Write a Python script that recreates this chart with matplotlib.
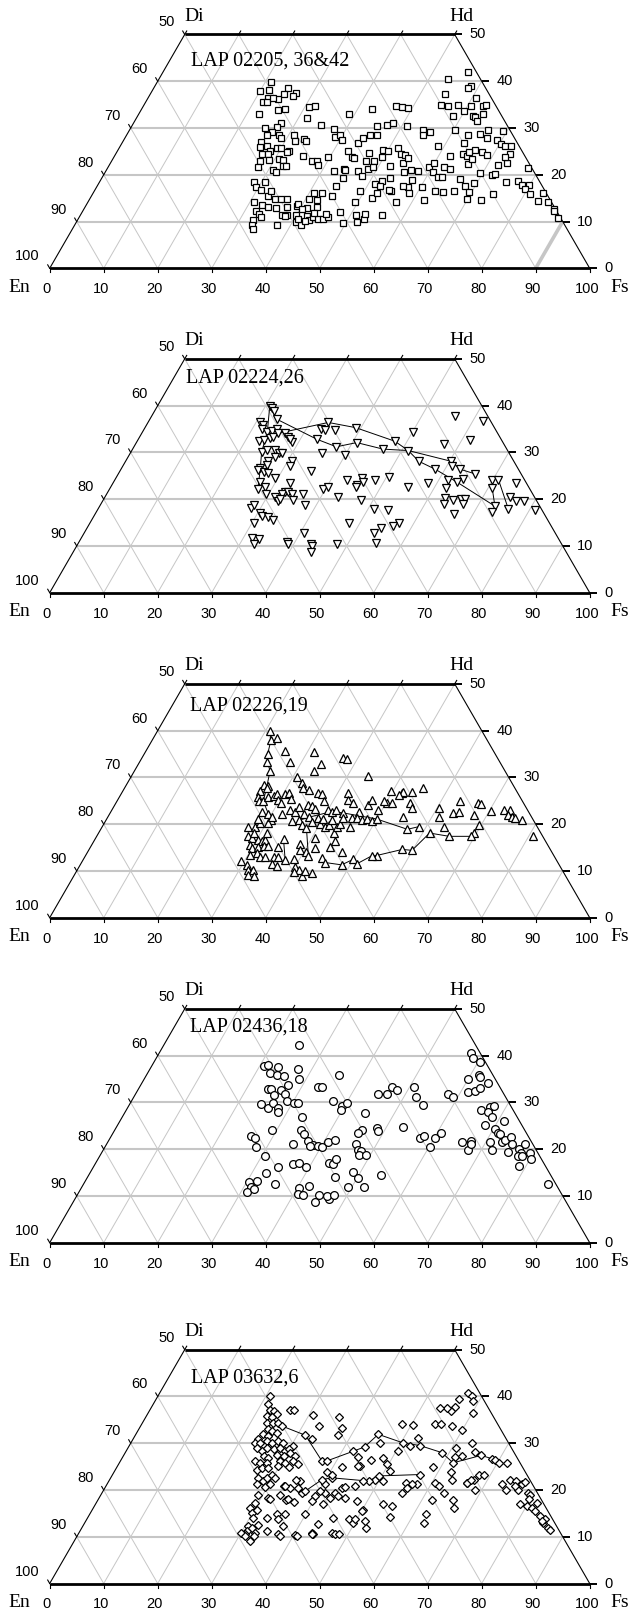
import numpy as np
import matplotlib
matplotlib.use("Agg")
import matplotlib.pyplot as plt

# Pyroxene compositions (mol% Wo and Fs; En = 100 - Wo - Fs) for five LAP basalts

# LAP 02205, 36&42
WO_02205 = [39.9, 38.0, 38.1, 38.6, 37.3, 37.4, 36.9, 36.4, 36.2, 35.5, 35.6, 36.4, 33.1, 33.9, 34.1,
            34.4, 34.6, 32.1, 30.7, 32.9, 34.1, 34.8, 34.4, 34.3, 41.9, 40.4, 38.9, 38.5, 37.3, 36.4,
            35.0, 34.8, 34.9, 33.7, 34.8, 34.6, 34.9, 32.6, 32.6, 32.3, 31.4, 33.0, 29.4, 29.6, 28.7,
            28.5, 27.8, 27.5, 26.6, 26.8, 25.4, 24.8, 24.2, 26.1, 26.2, 24.4, 22.6, 23.7, 29.6, 26.1,
            31.1, 30.3, 30.0, 29.1, 28.6, 27.1, 28.4, 27.9, 28.4, 27.3, 27.6, 27.3,
            29.8, 28.1, 28.4, 27.4, 25.0, 23.9, 23.6, 26.7, 27.8, 28.5, 28.4, 30.5, 30.6, 31.0, 30.4,
            29.6, 28.4, 29.2,
            25.9, 26.2, 25.1, 25.7, 25.7, 24.4, 24.4, 25.1, 24.8, 23.0, 23.1, 23.4, 23.1, 21.6, 21.0,
            20.5, 21.9, 21.9,
            24.1, 23.0, 22.9, 22.1, 23.7, 20.7, 21.2, 19.4, 21.0, 20.9, 19.8, 23.0, 21.2, 24.7, 22.9,
            21.6, 23.7, 25.3, 25.1, 21.9, 18.7, 19.3, 18.0, 17.6, 25.7, 24.4, 22.6, 24.3, 23.6, 21.1,
            20.8, 20.5, 21.6, 22.6, 20.5, 19.6, 19.6, 21.7, 21.2, 24.1, 24.4, 24.1, 24.8, 22.3, 23.4,
            20.4, 19.9, 20.1, 22.1, 15.9, 19.2, 17.6, 18.2, 16.4, 14.9, 14.6, 16.5, 16.4, 16.5, 14.6,
            17.4, 18.9, 17.4, 16.2, 17.6, 14.2, 16.6,
            18.4, 17.3, 16.8, 18.4, 15.5, 16.6, 14.8, 14.8, 14.8, 13.0, 11.4, 11.4, 13.1, 13.4, 13.7,
            14.8, 14.6, 16.2, 16.0, 15.5, 17.7, 16.6, 14.1, 15.1, 16.2, 16.8,
            14.1, 13.6, 13.1, 12.3, 11.6, 10.4, 9.3, 11.0, 8.4, 9.3, 11.4, 9.8, 9.3, 11.1, 10.3,
            10.9, 10.5, 10.6, 10.9, 11.7, 12.1, 9.6, 11.4, 9.8, 10.5, 11.7, 11.4, 13.0, 13.1, 11.8,
            12.6, 11.2, 10.5, 10.1,
            18.7, 17.8, 17.9, 16.9, 15.9, 16.2, 14.1, 14.4, 12.6, 12.3, 10.8, 21.4, 18.5]
FS_02205 = [21.0, 19.9, 21.6, 24.8, 24.8, 26.9, 26.6, 22.3, 24.1, 21.8, 22.5, 23.1, 22.2, 25.4, 26.5,
            30.8, 31.9, 31.6, 34.9, 38.9, 42.6, 46.8, 48.0, 49.2, 56.6, 53.5, 58.6, 58.2, 54.5, 60.8,
            54.9, 56.4, 58.1, 59.9, 60.6, 63.0, 63.3, 58.3, 62.1, 62.6, 63.5, 63.8, 69.3, 66.4, 65.3,
            63.3, 67.0, 69.0, 70.2, 63.3, 66.0, 67.7, 68.8, 71.2, 72.3, 73.0, 73.3, 72.5, 60.2, 58.8,
            27.3, 26.9, 24.8, 26.7, 26.0, 25.6, 28.2, 28.9, 31.1, 31.7, 33.3, 33.8,
            37.8, 38.7, 39.6, 40.5, 42.8, 44.0, 44.6, 43.7, 44.1, 45.0, 46.4, 45.4, 47.1, 48.1, 51.0,
            54.4, 54.9, 55.8,
            26.0, 27.1, 28.2, 29.2, 29.9, 27.1, 28.3, 31.8, 31.5, 27.5, 29.1, 30.7, 31.7, 27.7, 30.9,
            31.6, 32.3, 32.9,
            34.8, 37.0, 38.0, 38.6, 39.6, 42.3, 43.9, 44.7, 44.2, 46.6, 47.9, 47.1, 48.3, 46.7, 48.6,
            49.0, 49.6, 49.0, 50.1, 52.1, 52.1, 53.4, 51.3, 52.4, 51.6, 52.9, 54.2, 53.7, 54.6, 56.4,
            57.8, 55.4, 59.5, 59.9, 60.7, 62.1, 62.8, 62.2, 63.5, 62.1, 64.4, 65.2, 65.3, 66.4, 66.5,
            69.5, 71.9, 72.5, 71.9, 74.2, 66.4, 68.1, 69.4, 69.5, 69.8, 72.5, 66.7, 64.7, 63.1, 62.0,
            60.3, 57.6, 57.7, 58.4, 56.7, 57.0, 54.9,
            28.7, 29.5, 30.7, 30.6, 32.7, 32.6, 34.3, 35.5, 36.5, 35.4, 37.3, 38.2, 37.4, 39.1, 39.2,
            40.6, 42.2, 42.4, 41.0, 44.5, 44.2, 49.2, 49.5, 52.2, 52.6, 54.5,
            30.7, 32.5, 33.9, 32.0, 32.9, 32.4, 32.9, 33.6, 33.5, 37.4, 40.0, 40.7, 41.9, 42.1, 42.8,
            43.4, 44.4, 45.4, 46.1, 45.3, 47.7, 49.6, 51.1, 52.0, 53.0, 52.5, 55.9, 41.1, 42.9, 43.1,
            40.4, 38.0, 40.8, 42.2,
            77.4, 78.6, 79.8, 79.6, 81.0, 83.3, 85.3, 83.3, 87.0, 87.3, 88.7, 77.8, 75.2]

# LAP 02224,26
WO_02224 = [39.9, 39.4, 38.9, 37.1, 36.6, 35.9, 34.9, 34.4, 34.6, 34.9, 32.5, 32.6, 33.0, 33.4, 34.1,
            34.1, 33.4, 32.3, 32.8, 32.8, 34.9, 34.8, 36.4, 34.8, 31.2, 29.4, 32.1, 35.3, 29.9, 30.1,
            30.6, 30.6, 29.8, 29.8, 29.1, 28.2, 27.3, 26.6, 26.2, 25.9, 25.5, 28.2, 27.1, 26.1, 24.6,
            23.7, 22.6, 22.1, 21.1, 23.5, 21.6, 21.2, 21.6, 21.2, 20.4, 19.6, 20.1, 21.1, 19.8, 18.7,
            22.1, 22.5, 20.4, 24.1, 23.1, 22.6, 24.6, 23.7, 24.1, 19.8, 18.2, 18.7, 17.1, 16.4, 16.2,
            15.6, 14.9, 11.6, 11.4, 10.5, 10.9, 10.4, 12.8, 10.5, 9.9, 8.7, 10.5, 14.9, 17.8, 12.8,
            13.9, 10.6, 17.6, 24.8, 22.6, 23.4, 24.1, 24.4, 23.7, 22.3, 20.3, 19.9, 20.1, 20.1, 18.9,
            18.9, 16.9, 24.1, 24.2, 22.3, 18.5, 17.3, 18.0, 20.4, 19.6, 19.6, 17.6, 23.5, 37.8, 36.8,
            34.3, 32.4, 31.8, 32.6, 28.1, 27.1, 26.4, 26.4, 25.4, 28.1, 30.4, 30.7, 14.9, 14.2]
FS_02224 = [20.8, 21.4, 22.1, 23.5, 20.7, 21.6, 21.9, 23.1, 23.9, 24.6, 22.5, 23.4, 24.3, 24.7, 25.3,
            26.5, 27.5, 28.8, 28.1, 33.1, 32.8, 33.5, 33.4, 35.5, 37.5, 40.0, 40.8, 39.0, 35.4, 24.2,
            24.9, 26.4, 27.5, 28.1, 27.2, 26.4, 26.5, 25.7, 25.4, 26.8, 27.7, 30.8, 31.0, 35.4, 29.5,
            27.1, 28.6, 27.5, 29.5, 32.8, 32.8, 32.4, 33.4, 34.2, 31.6, 32.5, 32.6, 36.4, 35.2, 37.9,
            39.6, 40.2, 43.2, 43.0, 45.3, 45.4, 45.5, 46.2, 48.2, 47.8, 28.2, 28.5, 30.4, 31.1, 32.4,
            33.6, 30.3, 31.7, 33.0, 32.5, 38.5, 38.9, 40.6, 43.1, 43.7, 44.0, 47.9, 47.9, 51.2, 53.7,
            54.4, 55.2, 53.9, 50.5, 55.1, 58.3, 61.8, 64.4, 63.5, 62.2, 63.0, 64.8, 66.1, 66.8, 67.1,
            63.5, 66.5, 69.8, 71.0, 70.8, 73.2, 73.2, 75.9, 75.1, 76.5, 78.1, 81.1, 74.6, 56.2, 61.9,
            50.2, 47.7, 57.2, 61.5, 60.3, 60.9, 62.8, 58.2, 66.1, 54.3, 51.2, 46.4, 57.3, 56.5]
# traverses (core-to-rim profiles), as (Wo, Fs) pairs
TRAV_02224 = [
    [(39.9, 20.8), (37.1, 23.5), (32.8, 33.1), (31.2, 37.5), (32.1, 40.8), (30.7, 46.4), (30.4, 51.2),
     (28.1, 54.3), (26.4, 58.2), (23.7, 63.5), (18.5, 73.2), (22.3, 70.8)],
    [(34.1, 25.3), (36.4, 33.4), (35.3, 39.0), (32.4, 47.7), (30.4, 51.2), (28.1, 60.3), (26.4, 62.8),
     (25.4, 66.1)],
    [(24.2, 71.0), (18.0, 75.9)],
    [(22.1, 27.5), (26.6, 25.7), (30.1, 24.2), (34.4, 23.1), (39.9, 20.8)],
]

# LAP 02226,19
WO_02226 = [31.4, 30.1, 31.3, 30.4, 28.8, 27.7, 27.2, 26.6, 26.5, 24.9, 28.4, 28.2, 27.7, 27.0, 25.9,
            24.9, 24.9, 25.8, 26.1, 26.5, 25.2, 26.5, 26.6, 25.4, 24.6, 22.7, 22.2, 20.9, 22.1, 23.1,
            22.7, 23.6, 24.1, 23.9, 23.2, 22.2, 21.5, 21.3, 23.1, 22.7, 23.1, 22.4, 26.6, 25.2, 24.6,
            22.7, 24.1, 25.1, 23.1, 24.6, 27.0, 26.6, 19.5, 19.4, 20.2, 21.1, 20.2, 21.6, 20.6, 20.8,
            19.9, 19.1, 20.4, 20.1, 21.1, 19.5, 19.9, 20.9, 18.2, 19.4, 20.1, 19.4, 21.3, 21.3, 21.3,
            20.8, 21.1, 20.6, 21.1, 17.4, 17.0, 18.1, 16.6, 16.3, 16.6, 18.1, 15.6, 14.9, 15.1, 15.4,
            15.4, 13.4, 13.8, 12.9, 12.9, 12.9, 13.0, 16.8, 15.1, 12.4, 12.2, 11.3, 10.2, 10.2, 9.1,
            8.9, 11.5, 11.1, 12.5, 15.8, 14.5, 14.1, 13.2, 14.9, 17.0, 12.7, 11.8, 10.9, 10.2, 8.9,
            9.9, 9.5, 9.8, 15.1, 16.3, 14.1, 11.3, 12.5, 11.5,
            39.9, 37.9, 38.4, 34.9, 33.4,
            35.6, 33.4, 35.4, 32.9, 34.1, 34.0, 26.8, 26.8, 27.7, 26.3, 24.5, 23.4, 23.4, 22.4, 24.9,
            22.7, 24.6, 24.4, 22.0, 22.9, 23.1, 23.1, 22.0, 21.5, 21.3, 20.8, 17.5, 19.9, 18.2, 17.4,
            17.4, 18.1, 19.4, 21.5, 19.5, 18.9, 21.6, 14.4, 14.6, 13.3, 13.2,
            24.9, 24.5]
FS_02226 = [25.1, 30.7, 33.3, 43.7, 32.3, 33.1, 34.4, 36.4, 37.2, 38.3, 25.4, 26.4, 26.3, 25.5, 25.6,
            26.3, 27.1, 27.6, 28.4, 28.8, 29.7, 30.3, 31.0, 32.0, 30.6, 27.9, 29.4, 30.6, 31.9, 33.0,
            34.1, 34.4, 35.8, 36.6, 37.5, 36.0, 37.3, 39.1, 39.9, 40.9, 41.4, 43.2, 42.0, 42.6, 43.9,
            45.9, 46.9, 47.1, 49.3, 50.1, 49.7, 51.9, 27.0, 28.3, 28.8, 28.1, 30.4, 30.4, 34.5, 35.7,
            36.7, 38.0, 38.3, 40.0, 40.0, 41.2, 41.7, 41.8, 43.6, 43.5, 43.7, 45.9, 43.7, 45.3, 46.2,
            47.4, 48.2, 49.4, 50.0, 28.1, 28.9, 28.7, 30.3, 31.1, 31.6, 31.1, 29.3, 30.0, 31.0, 31.9,
            32.8, 30.4, 31.4, 32.5, 33.4, 35.0, 35.8, 34.9, 34.7, 37.4, 29.4, 30.8, 31.7, 32.6, 32.2,
            33.3, 35.4, 36.5, 38.9, 38.5, 39.1, 40.5, 41.3, 41.7, 40.6, 44.0, 45.1, 40.0, 41.0, 42.2,
            42.4, 43.8, 40.4, 44.4, 44.7, 47.0, 48.4, 50.0, 51.1,
            20.9, 22.0, 22.8, 22.9, 23.6,
            25.7, 27.8, 31.3, 33.8, 37.3, 38.0, 52.1, 53.6, 55.3, 51.5, 54.5, 55.3, 60.4, 63.4, 63.6,
            64.4, 67.1, 67.7, 67.6, 70.3, 72.5, 73.7, 73.9, 74.8, 75.5, 77.1, 80.7, 69.6, 69.5, 69.3,
            65.3, 61.3, 63.4, 61.4, 58.7, 56.8, 54.7, 59.9, 58.0, 53.9, 53.0,
            49.4, 51.1]
TRAV_02226 = [
    [(39.9, 20.9), (37.9, 22.0), (34.9, 22.9), (33.4, 23.6), (31.4, 25.1), (27.7, 26.3), (24.9, 27.1),
     (22.2, 29.4)],
    [(16.8, 34.9), (12.4, 37.4)],
    [(19.1, 38.0), (13.2, 41.3)],
    [(11.8, 45.1), (11.3, 48.4), (12.5, 50.0), (11.5, 51.1), (13.2, 53.0), (13.3, 53.9), (14.6, 58.0),
     (14.4, 59.9), (18.1, 61.3), (17.4, 65.3), (17.4, 69.3), (18.2, 69.5), (19.9, 69.6)],
    [(20.8, 35.7), (21.5, 37.3), (22.7, 40.9), (22.4, 43.2), (21.1, 50.0), (18.9, 56.8), (19.5, 58.7)],
]

# LAP 02436,18
WO_02436 = [42.3, 37.8, 38.0, 37.5, 36.2, 35.9, 35.6, 37.1, 35.1, 33.7, 32.8, 32.8, 32.6, 31.6, 31.8,
            30.4, 29.6, 28.9, 29.8, 28.9, 28.0, 29.9, 29.9, 26.8, 24.2, 24.1, 23.2, 21.8, 20.9, 20.6,
            20.4, 20.6, 21.0, 21.6, 21.9, 33.2, 33.2, 35.9, 30.3, 29.2, 29.8, 28.4, 27.8, 24.2, 23.4,
            24.6, 23.9, 24.8, 31.9, 31.8, 33.4, 32.6, 33.4, 31.2, 29.5, 31.7, 31.2, 22.3, 22.8, 22.4,
            23.4, 20.4, 21.6, 21.8, 19.9, 21.2, 22.8, 22.3, 20.4, 18.5, 16.1, 16.8, 17.1, 16.2, 21.2,
            19.9, 19.6, 18.7, 18.7, 17.1, 16.8, 18.0, 14.1, 15.1, 13.9, 11.9, 11.9, 14.4, 14.8, 12.6,
            13.0, 13.2, 11.9, 10.9, 11.4, 11.6, 10.5, 10.1, 12.1, 8.7, 10.1, 9.4, 10.0, 10.1, 40.5,
            39.6, 38.6, 35.1, 35.9, 35.4, 34.1, 32.3, 32.5, 33.0, 28.4, 29.1, 29.2, 28.0, 26.8, 25.1,
            24.4, 26.1, 23.5, 23.2, 21.6, 21.9, 22.6, 21.1, 19.4, 21.6, 19.9, 20.1, 19.1, 21.1, 18.5,
            18.5, 19.1, 18.0, 16.4, 12.6]
FS_02436 = [25.0, 20.7, 21.5, 23.6, 22.7, 24.1, 25.5, 27.4, 28.6, 27.3, 24.1, 24.6, 26.5, 25.8, 27.7,
            28.7, 24.3, 26.0, 26.5, 27.9, 28.2, 30.3, 31.1, 33.4, 29.0, 34.5, 35.5, 37.0, 38.4, 39.4,
            40.2, 37.9, 34.6, 40.8, 41.8, 33.1, 33.9, 35.6, 37.4, 39.6, 40.1, 39.8, 44.5, 45.7, 45.4,
            48.4, 48.9, 53.1, 44.8, 46.5, 46.7, 48.1, 50.7, 52.2, 54.3, 58.0, 59.0, 57.4, 58.0, 60.2,
            60.8, 60.3, 65.5, 67.1, 67.6, 67.5, 25.9, 26.9, 28.0, 30.6, 34.3, 36.7, 37.6, 39.3, 46.2,
            47.2, 47.8, 47.9, 49.3, 43.2, 44.1, 44.0, 45.8, 48.7, 50.2, 52.3, 49.2, 54.2, 32.6, 35.5,
            30.4, 31.7, 31.3, 31.0, 32.2, 40.3, 40.7, 41.9, 42.0, 44.7, 44.8, 47.0, 46.3, 47.6, 57.8,
            58.5, 60.4, 60.0, 61.5, 62.0, 64.2, 61.4, 62.5, 63.2, 65.7, 67.0, 67.7, 67.2, 68.5, 68.1,
            70.3, 71.0, 71.3, 71.8, 72.9, 73.4, 74.2, 75.1, 75.2, 70.8, 72.0, 76.8, 77.7, 77.4, 77.5,
            78.2, 79.4, 80.1, 78.7, 86.0]

# LAP 03632,6
WO_03632 = [40.0, 38.3, 37.2, 36.8, 36.2, 35.8, 35.5, 34.4, 34.4, 34.4, 33.7, 37.2, 37.0, 33.0, 32.6,
            32.2, 31.9, 31.5, 30.8, 30.1, 30.1, 30.5, 30.1, 30.5, 30.1, 29.4, 29.0, 28.3, 29.0, 28.7,
            29.0, 28.3, 28.7, 27.2, 26.9, 27.5, 27.2, 28.0, 27.2, 26.2, 25.8, 25.8, 26.2, 25.8, 26.2,
            25.5, 24.2, 24.6, 24.6, 25.1, 24.9, 22.6, 21.9, 22.6, 23.2, 22.5, 21.9, 22.2, 21.2, 20.6,
            21.2, 20.8, 20.5, 20.5, 19.0, 18.2, 19.0, 17.9, 17.5, 19.4, 19.7, 17.2, 16.2, 15.1, 15.8,
            14.0, 13.9, 14.8, 14.9, 13.7, 12.2, 12.2, 11.2, 10.5, 11.9, 10.8, 12.6, 11.2, 10.5, 10.3,
            14.8, 10.8, 10.5, 10.8, 10.5, 12.7, 16.9, 14.0, 13.7, 12.9, 11.9, 17.6, 15.8, 21.2, 23.9,
            22.6, 26.3, 26.2, 24.9, 20.5, 19.4, 18.7, 19.4, 19.7, 18.7, 17.6, 31.7, 30.8, 36.0, 33.7,
            35.5, 33.3, 31.7, 28.3, 25.1, 29.2, 26.5, 31.9, 30.1, 28.3, 34.0, 33.8, 30.1, 29.5, 31.2,
            29.5, 28.0, 29.0, 27.1, 27.2, 30.0, 28.1, 27.4, 26.7, 26.5, 25.7, 25.8, 22.2, 21.9, 21.2,
            21.7, 19.4, 16.9, 16.5, 40.8, 40.1, 39.0, 36.5, 39.4, 37.8, 36.9, 37.6, 37.5, 34.2, 34.2,
            33.7, 32.8, 24.9, 23.8, 25.8, 22.1, 19.4, 17.9, 16.2, 21.4, 20.8, 21.5, 22.2, 23.1, 23.3,
            20.1, 21.2, 20.1, 20.1, 12.9, 14.9, 17.9, 21.2, 23.3, 21.5, 19.4, 16.5, 14.2, 21.9, 22.2,
            21.9, 16.9, 24.0, 25.5, 26.9, 27.0, 25.1, 13.3, 13.7, 18.3, 23.3,
            20.8, 22.2, 20.6, 20.8, 21.9, 23.0, 20.5, 21.2, 21.5, 22.2, 20.8, 19.0,
            16.2, 15.5, 14.4, 13.0, 11.9, 11.5, 17.2, 18.0, 13.7, 13.3,
            10.8, 10.1, 9.0, 10.1, 10.1, 10.6, 10.1, 10.6, 18.0, 18.0, 18.3, 15.5]
FS_03632 = [20.8, 21.3, 22.2, 23.1, 24.0, 22.3, 23.4, 23.0, 24.2, 25.1, 26.1, 25.9, 26.8, 24.0, 24.8,
            25.9, 23.6, 24.7, 23.2, 23.0, 23.9, 25.0, 26.1, 27.1, 28.2, 30.4, 23.8, 25.1, 25.7, 27.1,
            28.1, 29.4, 29.9, 26.0, 27.0, 28.3, 29.7, 30.5, 31.8, 24.9, 26.0, 27.3, 29.6, 30.7, 32.0,
            33.3, 26.2, 27.0, 28.2, 29.8, 31.8, 27.3, 28.6, 28.9, 29.5, 30.5, 35.4, 34.6, 27.7, 29.6,
            30.2, 32.9, 34.3, 35.8, 29.1, 31.4, 33.1, 34.9, 36.4, 37.0, 37.4, 29.4, 29.0, 29.9, 30.4,
            30.7, 33.2, 34.7, 36.1, 35.5, 37.1, 30.7, 30.9, 30.9, 31.5, 32.6, 32.3, 34.6, 37.1, 40.3,
            39.9, 43.1, 43.6, 46.8, 47.6, 43.4, 42.2, 45.5, 48.5, 49.8, 52.6, 48.1, 50.2, 40.4, 39.4,
            40.9, 37.2, 38.2, 41.6, 43.8, 43.1, 44.1, 41.3, 40.2, 39.8, 39.7, 31.5, 33.2, 30.7, 33.1,
            35.9, 37.5, 37.5, 42.1, 44.9, 43.7, 46.2, 44.9, 46.1, 50.4, 48.2, 50.4, 50.3, 52.0, 52.6,
            53.8, 58.6, 60.7, 61.5, 62.8, 63.2, 64.7, 66.2, 68.5, 69.2, 70.3, 71.7, 74.1, 75.4, 76.8,
            77.2, 78.9, 78.7, 80.1, 57.1, 58.1, 58.9, 60.2, 56.1, 56.2, 55.9, 54.7, 53.6, 54.2, 55.4,
            57.7, 59.9, 58.6, 62.4, 61.8, 63.4, 63.4, 65.8, 66.7, 60.7, 61.7, 66.6, 67.5, 68.0, 68.8,
            68.7, 73.1, 74.4, 76.6, 62.9, 62.3, 61.8, 57.4, 56.9, 55.3, 55.5, 55.1, 55.9, 50.7, 49.1,
            48.1, 53.3, 51.0, 49.7, 48.3, 43.6, 44.5, 51.7, 49.7, 45.5, 40.6,
            33.1, 39.3, 44.4, 46.1, 47.1, 49.4, 55.9, 56.4, 66.5, 67.0, 75.8, 79.4,
            81.2, 82.2, 83.6, 84.9, 86.4, 86.9, 81.6, 79.7, 84.9, 84.5,
            30.1, 31.1, 32.6, 32.7, 40.7, 43.2, 37.6, 48.2, 31.8, 35.2, 42.8, 50.1]
TRAV_03632 = [
    [(33.7, 26.1), (31.7, 31.5), (26.3, 37.2), (26.2, 38.2), (28.3, 42.1), (29.2, 43.7), (31.9, 44.9),
     (30.1, 50.3), (29.5, 53.8), (28.0, 58.6), (25.8, 61.8), (27.4, 66.2), (26.7, 68.5)],
    [(19.7, 37.4), (22.2, 39.3), (22.6, 40.9), (21.9, 48.1), (23.0, 49.4), (23.3, 56.9)],
]

# ---------------------------------------------------------------------------
W, H = 629, 1614
U = 5.4            # pixels per composition unit
X0 = 49.7          # x pixel of the En corner
AX_H = 300         # axes height (px)
BELOW = 30         # axes extent below the En-Fs edge (px)
R3 = np.sqrt(3) / 2
TOP = 50 * R3
GRID = "#c6c6c6"
SERIF = ["Liberation Serif", "DejaVu Serif"]
SANS = ["Liberation Sans", "DejaVu Sans"]


def p(v):
    """pixels -> composition units"""
    return v / U


def cart(wo, fs):
    wo = np.asarray(wo, float)
    fs = np.asarray(fs, float)
    return fs + wo / 2.0, wo * R3


def draw_quad(ax):
    for w in (10, 20, 30, 40):
        ax.plot([w / 2, 100 - w / 2], [w * R3] * 2, color=GRID, lw=1.5, zorder=1,
                solid_capstyle="butt")
    for f in range(10, 100, 10):
        wmax = min(50, 100 - f)
        x, y = cart([0, wmax], [f, f])
        ax.plot(x, y, color=GRID, lw=0.7, zorder=1)
    for e in range(10, 100, 10):
        wmax = min(50, 100 - e)
        x, y = cart([0, wmax], [100 - e, 100 - e - wmax])
        ax.plot(x, y, color=GRID, lw=0.7, zorder=1)

    ax.plot([0, 25], [0, TOP], color="k", lw=0.8, zorder=2)
    ax.plot([100, 75], [0, TOP], color="k", lw=0.8, zorder=2)
    ax.plot([0, 100], [0, 0], color="k", lw=2.0, zorder=2, solid_capstyle="butt")
    ax.plot([25, 75], [TOP, TOP], color="k", lw=2.0, zorder=2, solid_capstyle="butt")

    tl = p(4)
    for v in range(0, 101, 10):
        ax.plot([v, v], [0, -tl], color="k", lw=0.8, zorder=2)
        ax.text(v - p(3), -p(21), str(v), ha="center", va="center", fontsize=10.5, family=SANS)
    for v in range(25, 76, 10):
        ax.plot([v, v + 0.5 * tl], [TOP, TOP + R3 * tl], color="k", lw=0.8, zorder=2)
    for w in range(0, 51, 10):
        xl, yl = w / 2, w * R3
        ax.plot([xl, xl - 0.5 * tl], [yl, yl + R3 * tl], color="k", lw=0.8, zorder=2)
        ax.text(xl - p(10), yl + p(12), str(100 - w), ha="right", va="center",
                fontsize=10.5, family=SANS)
        xr = 100 - w / 2
        ax.plot([xr, xr + p(7)], [yl, yl], color="k", lw=1.4, zorder=2, solid_capstyle="butt")
        ax.text(xr + p(14.5), yl, str(w), ha="left", va="center", fontsize=10.5, family=SANS)

    ax.text(-p(30.5), -p(19), "En", ha="center", va="center", fontsize=14, family=SERIF)
    ax.text(100 + p(30), -p(19), "Fs", ha="center", va="center", fontsize=14, family=SERIF)
    ax.text(25, TOP + p(18), "Di", ha="left", va="center", fontsize=14, family=SERIF)
    ax.text(75 - p(5), TOP + p(18), "Hd", ha="left", va="center", fontsize=14, family=SERIF)


panels = [
    dict(title="LAP 02205, 36&42", wo=WO_02205, fs=FS_02205, trav=[], marker="s", ms=5.0,
         base=268.3, title_x=191, title_dy=27),
    dict(title="LAP 02224,26", wo=WO_02224, fs=FS_02224, trav=TRAV_02224, marker="v", ms=5.6,
         base=592.7, title_x=186, title_dy=19),
    dict(title="LAP 02226,19", wo=WO_02226, fs=FS_02226, trav=TRAV_02226, marker="^", ms=5.6,
         base=917.7, title_x=190, title_dy=22),
    dict(title="LAP 02436,18", wo=WO_02436, fs=FS_02436, trav=[], marker="o", ms=5.6,
         base=1242.7, title_x=190, title_dy=18),
    dict(title="LAP 03632,6", wo=WO_03632, fs=FS_03632, trav=TRAV_03632, marker="D", ms=4.0,
         base=1583.5, title_x=191, title_dy=28),
]

fig = plt.figure(figsize=(W / 100, H / 100), dpi=100)
for i, pn in enumerate(panels):
    ax = fig.add_axes([0, 1 - (pn["base"] + BELOW) / H, 1, AX_H / H])
    ax.set_xlim(-X0 / U, (W - X0) / U)
    ax.set_ylim(-BELOW / U, (AX_H - BELOW) / U)
    ax.axis("off")
    draw_quad(ax)
    if i == 0:
        gx, gy = cart([0, 10], [90, 90])
        ax.plot(gx, gy, color=GRID, lw=2.6, zorder=1.5, solid_capstyle="butt")
    for tr in pn["trav"]:
        tw, tf = zip(*tr)
        tx, ty = cart(tw, tf)
        ax.plot(tx, ty, color="k", lw=0.7, zorder=3)
    x, y = cart(pn["wo"], pn["fs"])
    ax.plot(x, y, ls="none", marker=pn["marker"], ms=pn["ms"], mfc="white", mec="black",
            mew=0.9, zorder=4)
    ax.text(p(pn["title_x"] - X0), TOP - p(pn["title_dy"]), pn["title"], ha="left",
            va="center", fontsize=14.5, family=SERIF)

fig.savefig("out.png", dpi=100)
